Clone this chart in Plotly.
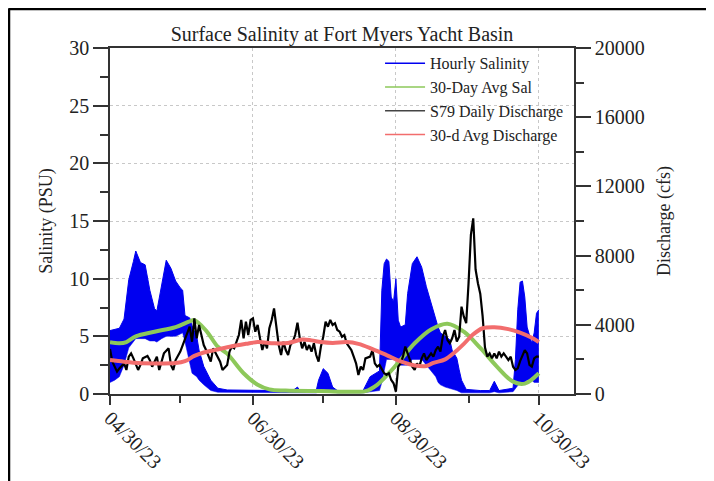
import pandas as pd
import plotly.graph_objects as go

BASE = pd.Timestamp("2023-04-30")

# ---- Hourly salinity envelope (daily min / max of hourly readings), PSU ----
sal_days = [0, 2, 4, 6, 8, 10, 11, 13, 15, 17, 19, 20, 22, 24, 26, 28, 30, 31, 32, 34, 35, 37, 38, 40, 43, 46,
            50, 60, 70, 78, 80, 81, 88, 89, 91, 93, 95, 97, 108, 111, 115, 116, 117, 118, 119, 120, 121, 122,
            123, 124, 126, 127, 129, 131, 133, 135, 137, 139, 140, 141, 143, 145, 146, 148, 149, 150, 152,
            158, 162, 164, 166, 172, 173, 174, 175, 176, 177, 178, 180, 181, 182, 183]
sal_low = [1.0, 1.2, 1.5, 2.5, 4.0, 4.5, 4.8, 4.8, 4.8, 4.6, 4.6, 4.5, 4.8, 5.0, 5.0, 5.0, 5.2, 5.3, 4.5, 2.5, 1.8, 1.5, 1.2, 0.8, 0.3, 0.15,
           0.15, 0.15, 0.1, 0.1, 0.1, 0.1, 0.1, 0.2, 0.4, 0.3, 0.2, 0.1, 0.1, 0.2, 0.3, 1.0, 2.0, 3.0, 3.0, 3.0, 3.0, 3.0,
           2.8, 2.5, 2.5, 2.5, 3.0, 3.0, 3.0, 2.5, 2.0, 1.5, 1.0, 0.8, 0.6, 0.5, 0.4, 0.3, 0.2, 0.1, 0.1,
           0.1, 0.1, 0.2, 0.1, 0.2, 0.5, 0.8, 1.0, 1.0, 1.0, 1.2, 1.2, 1.0, 1.0, 1.0]
sal_high = [5.5, 5.6, 5.7, 6.5, 9.9, 11.5, 12.4, 11.4, 11.2, 9.0, 7.4, 7.2, 9.4, 11.6, 10.9, 9.8, 9.2, 9.0, 6.8, 6.6, 5.9, 5.0, 3.8, 2.4, 1.2, 0.5,
            0.35, 0.3, 0.3, 0.3, 0.6, 0.3, 0.3, 1.2, 2.2, 1.8, 0.6, 0.3, 0.3, 1.5, 2.0, 9.0, 11.3, 11.7, 11.5, 8.4, 8.0, 10.0,
            6.4, 5.8, 6.0, 8.7, 11.3, 11.9, 11.0, 9.3, 7.9, 6.4, 5.8, 5.3, 5.0, 4.7, 3.8, 3.1, 2.1, 1.2, 0.4,
            0.3, 0.3, 1.1, 0.3, 0.5, 3.0, 7.3, 9.7, 9.8, 8.4, 5.8, 4.4, 5.3, 7.0, 7.3]

# ---- 30-day average salinity, PSU ----
avgsal_days = [0, 4, 7, 11, 19, 28, 34, 36, 41, 46, 50, 57, 63, 68, 75, 90, 105, 109, 114, 119, 125, 130,
               137, 144, 151, 158, 165, 172, 177, 183]
avgsal = [4.5, 4.4, 4.5, 5.0, 5.4, 5.8, 6.3, 6.4, 5.5, 4.1, 3.5, 1.8, 0.8, 0.4, 0.3, 0.25, 0.2, 0.25, 0.8, 1.8, 3.2, 4.4,
          5.6, 6.1, 5.4, 4.0, 2.4, 1.07, 0.9, 1.8]

# ---- S79 daily discharge, cfs ----
dis_days = [0, 1, 3, 4, 6, 7, 8, 9, 10, 12, 13, 14, 16, 17, 18, 19, 20, 21, 22, 23, 25, 26, 27, 28, 30, 31,
            33, 34, 35, 36, 37, 38, 39, 40, 41, 43, 44, 45, 47, 48, 50, 51, 52, 53, 55, 56, 57, 58, 59, 60,
            61, 62, 63, 64, 65, 66, 67, 68, 69, 70, 71, 72, 73, 74, 75, 76, 77, 78, 79, 80, 81, 82, 83, 84,
            85, 86, 87, 88, 89, 90, 91, 92, 93, 94, 95, 96, 97, 98, 99, 100, 101, 102, 103, 104, 105, 106,
            107, 108, 109, 111, 112, 113, 114, 115, 116, 117, 118, 119, 120, 121, 122, 123, 124, 125, 126,
            127, 128, 129, 130, 131, 132, 133, 134, 135, 137, 138, 139, 140, 141, 142, 143, 144, 145, 146,
            147, 148, 149, 150, 151, 152, 153, 154, 155, 156, 157, 158, 159, 160, 161, 162, 163, 164, 165,
            166, 167, 168, 169, 170, 171, 172, 173, 174, 175, 176, 177, 178, 179, 180, 181, 182, 183]
dis_cfs = [2600, 1870, 1290, 1480, 1770, 1390, 2160, 2350, 2060, 1390, 1680, 2060, 2200, 1960, 1580, 1870, 2160, 1390, 1870, 2350, 2640, 1680, 1390, 1960, 2450, 2830,
           3510, 3890, 3020, 4370, 3220, 3990, 3410, 2830, 2540, 1870, 2640, 2350, 1870, 1390, 1680, 2450, 2740, 2640, 3410, 4280, 3220, 4180, 3410, 4280,
           4370, 3600, 3990, 3220, 2540, 3020, 2640, 3800, 4280, 4950, 3990, 2830, 2250, 3020, 2540, 2250, 2830, 3020, 3410, 4120, 3220, 2640, 3020, 2540,
           2830, 2450, 2930, 2250, 1870, 2740, 3310, 4180, 3890, 4280, 3990, 4090, 3700, 3600, 3310, 3410, 2930, 2740, 2540, 2160, 1770, 1100,
           1580, 1390, 2060, 2160, 2540, 1770, 1580, 1680, 1390, 1200, 1100, 1200, 810, 620, 130, 1580, 1770, 2160, 2740,
           2350, 1965, 1580, 1390, 1770, 1580, 2060, 2350, 1965, 2350, 2160, 2540, 2740, 2450, 3310, 3700, 3120, 2930, 3220,
           3700, 3030, 3310, 5050, 4470, 4090, 6400, 9200, 10150, 7200, 6400, 5800, 4500, 2700, 2160, 2350, 2060, 2350, 2060,
           2450, 2160, 2350, 2160, 1965, 2160, 1580, 1390, 1480, 1900, 2250, 2540, 2350, 1680, 1580, 2060, 2160, 2160]

# ---- 30-day average discharge, cfs ----
avgdis_days = [0, 6, 12, 20, 28, 32, 36, 40, 45, 52, 58, 63, 70, 76, 82, 86, 90, 95, 101, 106, 112, 118, 124,
               130, 135, 138, 143, 147, 151, 155, 159, 164, 170, 175, 180, 183]
avgdis = [1965, 1870, 1790, 1770, 1790, 1900, 2200, 2400, 2550, 2760, 2900, 3000, 2930, 2950, 3150, 3100, 3000, 2950,
          3000, 2900, 2600, 2250, 1880, 1650, 1620, 1800, 2000, 2400, 2900, 3450, 3800, 3860, 3750, 3550, 3250, 3000]

# ---- axis ticks ----
date_ticks = ["2023-04-30", "2023-06-30", "2023-08-30", "2023-10-30"]
date_ticktext = ["04/30/23", "06/30/23", "08/30/23", "10/30/23"]
date_minor = ["2023-05-30", "2023-07-30", "2023-09-30"]
x_range = ["2023-04-30", "2023-11-14"]
sal_ticks = [0, 5, 10, 15, 20, 25, 30]
dis_ticks = [0, 4000, 8000, 12000, 16000, 20000]


def to_dates(days):
    return BASE + pd.to_timedelta(days, unit="D")


BLUE = "#0000f0"
GREEN = "#8dc85a"
BLACK = "#000000"
RED = "#f26d6d"
FONT = "Liberation Serif"
AX = "#333333"
TXT = "#222222"

# figure size leaves room for the page's 8px body margin
W, H = 706, 473
ML, MT, PW, PH = 102, 40, 464, 346

fig = go.Figure()

# Hourly salinity band
fig.add_trace(go.Scatter(x=to_dates(sal_days), y=sal_low, mode="lines",
                         line=dict(color=BLUE, width=0.5), showlegend=False, hoverinfo="skip"))
fig.add_trace(go.Scatter(x=to_dates(sal_days), y=sal_high, mode="lines", fill="tonexty",
                         fillcolor=BLUE, line=dict(color=BLUE, width=1), showlegend=False))
# 30-day avg salinity
fig.add_trace(go.Scatter(x=to_dates(avgsal_days), y=avgsal, mode="lines",
                         line=dict(color=GREEN, width=4, shape="spline"), showlegend=False))
# Daily discharge
fig.add_trace(go.Scatter(x=to_dates(dis_days), y=dis_cfs, mode="lines", yaxis="y2",
                         line=dict(color=BLACK, width=2.2), showlegend=False))
# 30-day avg discharge
fig.add_trace(go.Scatter(x=to_dates(avgdis_days), y=avgdis, mode="lines", yaxis="y2",
                         line=dict(color=RED, width=4, shape="spline"), showlegend=False))

# legend entries (thin lines, as in the reference key)
for name, col in [("Hourly Salinity", BLUE), ("30-Day Avg Sal", GREEN),
                  ("S79 Daily Discharge", "#444444"), ("30-d Avg Discharge", RED)]:
    fig.add_trace(go.Scatter(x=[None], y=[None], mode="lines", name=name,
                             line=dict(color=col, width=1.5)))

grid = dict(showgrid=True, gridcolor="#c8c8c8", griddash="dot", gridwidth=1)

fig.update_layout(
    width=W, height=H,
    margin=dict(l=ML, r=W - ML - PW, t=MT, b=H - MT - PH, autoexpand=False),
    paper_bgcolor="white", plot_bgcolor="white",
    font=dict(family=FONT, color=TXT, size=18),
    title=dict(text="Surface Salinity at Fort Myers Yacht Basin", x=0.5, xref="paper",
               y=1 - 26 / H, yref="container", yanchor="middle", xanchor="center",
               font=dict(family=FONT, size=20, color=TXT)),
    showlegend=True,
    legend=dict(x=0.582, y=1.005, xanchor="left", yanchor="top", bgcolor="rgba(0,0,0,0)",
                traceorder="normal",
                font=dict(family=FONT, size=16, color=TXT), itemwidth=40, tracegroupgap=0),
    xaxis=dict(type="date", range=x_range, tickvals=date_ticks, ticktext=date_ticktext,
               tickangle=45, ticks="outside", ticklen=9, tickcolor=AX, tickwidth=1.5,
               ticklabelstandoff=-6,
               showline=True, linecolor=AX, linewidth=1.5, mirror=True,
               tickfont=dict(family=FONT, size=20, color=TXT),
               minor=dict(tickvals=date_minor, ticks="outside", ticklen=7, tickcolor=AX, tickwidth=1.5, showgrid=False),
               zeroline=False, **grid),
    yaxis=dict(range=[0, 30], tickvals=sal_ticks, ticks="outside", ticklen=15, tickcolor=AX, tickwidth=1.5,
               showline=True, linecolor=AX, linewidth=1.5,
               tickfont=dict(family=FONT, size=20, color=TXT),
               minor=dict(dtick=2.5, tick0=0, ticks="outside", ticklen=8, tickcolor=AX, tickwidth=1.5, showgrid=False),
               title=dict(text="Salinity (PSU)", standoff=12, font=dict(family=FONT, size=18, color=TXT)),
               zeroline=False, **grid),
    yaxis2=dict(range=[0, 20000], tickvals=dis_ticks, tickformat="d", overlaying="y", side="right",
                ticks="outside", ticklen=15, tickcolor=AX, tickwidth=1.5,
                showline=True, linecolor=AX, linewidth=1.5, showgrid=False,
                tickfont=dict(family=FONT, size=20, color=TXT),
                minor=dict(dtick=2000, tick0=0, ticks="outside", ticklen=8, tickcolor=AX, tickwidth=1.5, showgrid=False),
                title=dict(text="Discharge (cfs)", standoff=14, font=dict(family=FONT, size=18, color=TXT)),
                zeroline=False),
)

# image frame (top and left edges visible in the reference crop)
def px_x(fx):
    return (fx - ML) / PW


def px_y(fy):
    return (MT + PH - fy) / PH


fig.add_shape(type="line", xref="paper", yref="paper", x0=px_x(0.5), x1=px_x(W + 2),
              y0=px_y(0.75), y1=px_y(0.75), line=dict(color="black", width=3))
fig.add_shape(type="line", xref="paper", yref="paper", x0=px_x(0.75), x1=px_x(0.75),
              y0=px_y(0.5), y1=px_y(H + 2), line=dict(color="black", width=3))

fig.write_html("out.html")
